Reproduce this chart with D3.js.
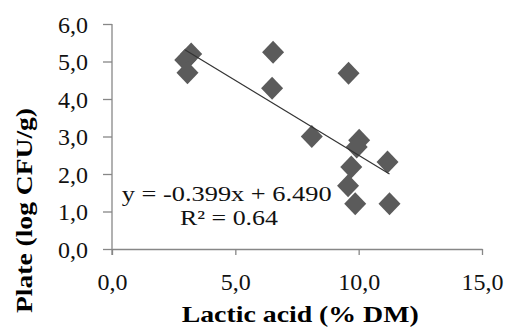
<!DOCTYPE html>
<html>
<head>
<meta charset="utf-8">
<script src="https://cdn.jsdelivr.net/npm/d3@7"></script>
<style>
  body { margin: 0; background: #fff; }
  svg { font-family: "Liberation Serif", "Times New Roman", serif; }
</style>
</head>
<body>
<svg id="plot"></svg>
<script>
// Lactic acid (% DM) vs plate count (log CFU/g)
const lactic = [3.21, 2.97, 3.06, 6.53, 6.49, 9.59, 8.10, 10.02, 9.92, 9.70, 9.57, 9.86, 11.17, 11.25];
const plate  = [5.20, 5.04, 4.70, 5.25, 4.29, 4.69, 3.00, 2.90, 2.72, 2.19, 1.69, 1.21, 2.32, 1.21];

const xTicks = [0, 5, 10, 15];
const yTicks = [0, 1, 2, 3, 4, 5, 6];

// regression shown on the chart
const slope = -0.399;
const intercept = 6.490;
const eqLines = ["y = -0.399x + 6.490", "R² = 0.64"];

const width = 510;
const height = 331;
const margin = {top: 24, right: 28, bottom: 82, left: 112};

const comma = d3.formatLocale({decimal: ",", thousands: ".", grouping: [3], currency: ["", ""]}).format(".1f");

const x = d3.scaleLinear().domain([0, 15]).range([margin.left, width - margin.right]);
const y = d3.scaleLinear().domain([0, 6]).range([height - margin.bottom, margin.top]);

const svg = d3.select("#plot")
    .attr("width", width)
    .attr("height", height);

// x axis
const gx = svg.append("g")
    .attr("transform", `translate(0,${y(0)})`)
    .call(d3.axisBottom(x).tickValues(xTicks).tickFormat(comma).tickSize(6).tickSizeOuter(0).tickPadding(18));

// y axis
const gy = svg.append("g")
    .attr("transform", `translate(${x(0)},0)`)
    .call(d3.axisLeft(y).tickValues(yTicks).tickFormat(comma).tickSize(9).tickSizeOuter(0).tickPadding(15));

[gx, gy].forEach(g => {
  g.select(".domain").attr("stroke", "#878787").attr("stroke-width", 1.3);
  g.selectAll(".tick line").attr("stroke", "#878787").attr("stroke-width", 1.3);
  g.selectAll(".tick text")
      .attr("fill", "#111")
      .style("font-family", "Liberation Serif")
      .style("font-size", "24px");
});
// y axis runs down to the x tick length
gy.select(".domain").attr("d", `M0,${y(6)}V${y(0) + 6}`);
gx.selectAll(".tick text").attr("dy", "0.71em");
gy.selectAll(".tick text").attr("dy", "0.34em");

// diamonds
const pts = lactic.map((d, i) => ({x: d, y: plate[i]}));
svg.append("g")
  .selectAll("path")
  .data(pts)
  .join("path")
    .attr("transform", d => `translate(${x(d.x)},${y(d.y)})`)
    .attr("d", "M0,-11.5L11,0L0,11.5L-11,0Z")
    .attr("fill", "#5b5b5b");

// trend line
const xExt = d3.extent(lactic);
svg.append("line")
    .attr("x1", x(xExt[0])).attr("y1", y(slope * xExt[0] + intercept))
    .attr("x2", x(xExt[1])).attr("y2", y(slope * xExt[1] + intercept))
    .attr("stroke", "#333")
    .attr("stroke-width", 1.2);

// equation
svg.append("text")
    .attr("x", 121.7).attr("y", 201)
    .attr("font-size", 21)
    .attr("textLength", 210).attr("lengthAdjust", "spacingAndGlyphs")
    .attr("fill", "#111")
    .text(eqLines[0]);
svg.append("text")
    .attr("x", 180).attr("y", 225)
    .attr("font-size", 21)
    .attr("textLength", 98).attr("lengthAdjust", "spacingAndGlyphs")
    .attr("fill", "#111")
    .text(eqLines[1]);

// axis titles
svg.append("text")
    .attr("x", 181.7).attr("y", 322)
    .attr("font-size", 23).attr("font-weight", "bold")
    .attr("textLength", 237).attr("lengthAdjust", "spacingAndGlyphs")
    .text("Lactic acid (% DM)");

svg.append("text")
    .attr("transform", "translate(32,313) rotate(-90)")
    .attr("font-size", 23).attr("font-weight", "bold")
    .attr("textLength", 205).attr("lengthAdjust", "spacingAndGlyphs")
    .text("Plate (log CFU/g)");
</script>
</body>
</html>
